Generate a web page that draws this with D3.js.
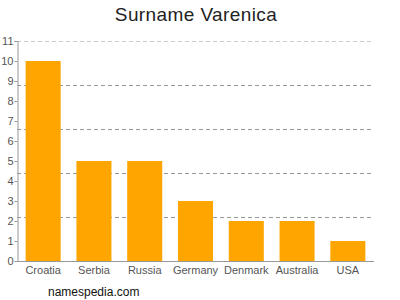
<!DOCTYPE html>
<html>
<head>
<meta charset="utf-8">
<script src="https://cdn.jsdelivr.net/npm/d3@7"></script>
<style>
  body { margin: 0; background: #fff; }
  svg { font-family: "Liberation Sans", Arial, sans-serif; }
</style>
</head>
<body>
<svg id="chart" width="400" height="300"></svg>
<script>
var countries = ["Croatia", "Serbia", "Russia", "Germany", "Denmark", "Australia", "USA"];
var counts = [10, 5, 5, 3, 2, 2, 1];
var yTicks = [0, 1, 2, 3, 4, 5, 6, 7, 8, 9, 10, 11];
var gridVals = [2.2, 4.4, 6.6, 8.8, 11];

var svg = d3.select("#chart");
var plotLeft = 17, plotRight = 374, plotTop = 41, plotBottom = 261;

var x = d3.scaleBand()
    .domain(countries)
    .range([plotLeft, plotRight])
    .paddingInner(0.31)
    .paddingOuter(0.17);

var y = d3.scaleLinear()
    .domain([0, 11])
    .range([plotBottom, plotTop]);

// title
svg.append("text")
    .attr("x", 196).attr("y", 21)
    .attr("text-anchor", "middle")
    .attr("font-size", 19)
    .attr("letter-spacing", 0.4)
    .attr("fill", "#222")
    .text("Surname Varenica");

// grid
svg.append("g").selectAll("line")
    .data(gridVals)
    .join("line")
    .attr("x1", plotLeft).attr("x2", plotRight)
    .attr("y1", d => Math.round(y(d)) + 0.5)
    .attr("y2", d => Math.round(y(d)) + 0.5)
    .attr("stroke", (d, i) => i == gridVals.length - 1 ? "#ccc" : "#999")
    .attr("stroke-dasharray", "4,3");

// bars
svg.append("g").selectAll("rect")
    .data(countries)
    .join("rect")
    .attr("x", d => x(d))
    .attr("width", x.bandwidth())
    .attr("y", (d, i) => y(counts[i]))
    .attr("height", (d, i) => plotBottom - y(counts[i]))
    .attr("fill", "#ffa500");

// y axis
var yAxis = svg.append("g")
    .attr("transform", "translate(" + (plotLeft + 0.5) + ",0)")
    .call(d3.axisLeft(y).tickValues(yTicks).tickSize(3).tickFormat(d3.format("d")));
yAxis.select(".domain").attr("stroke", "#999");
yAxis.selectAll(".tick line").attr("stroke", "#999");
yAxis.selectAll("text").attr("fill", "#555").attr("font-size", 11).attr("x", -4);

// x axis
var xAxis = svg.append("g")
    .attr("transform", "translate(0," + (plotBottom + 0.5) + ")")
    .call(d3.axisBottom(x).tickSize(0));
xAxis.select(".domain").attr("stroke", "#999").attr("d", "M" + plotLeft + ",0H" + plotRight);
xAxis.selectAll("text").attr("fill", "#555").attr("font-size", 11).attr("y", 5);

// footer
svg.append("text")
    .attr("x", 48).attr("y", 296)
    .attr("font-size", 12)
    .attr("fill", "#111")
    .text("namespedia.com");
</script>
</body>
</html>
